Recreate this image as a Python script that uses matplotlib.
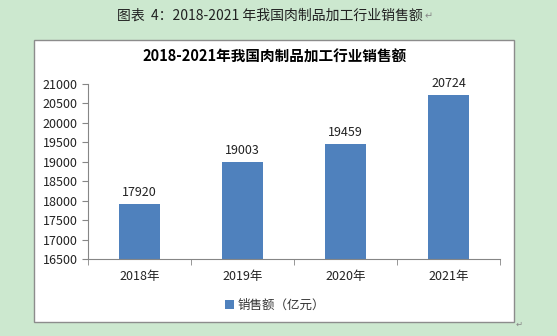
import matplotlib.pyplot as plt
from matplotlib.patches import Rectangle

plt.rcParams['font.family'] = ['Noto Sans CJK SC', 'DejaVu Sans']

# sales of meat processing industry, 100 million yuan
years = ['2018年', '2019年', '2020年', '2021年']
sales = [17920, 19003, 19459, 20724]
yticks = list(range(16500, 21001, 500))

bar_color = '#4f81bd'
axis_color = '#868686'

fig = plt.figure(figsize=(5.57, 3.36), dpi=100)
fig.patch.set_facecolor('#cce8cf')

# white chart frame, kept behind the axes
frame = Rectangle((34 / 557, 1 - 322 / 336), 480 / 557, 282 / 336,
                  transform=fig.transFigure, facecolor='white',
                  edgecolor='#8c8c8c', linewidth=1.0, zorder=-10)
fig.patches.append(frame)

caption = fig.text(0.485, 1 - 16 / 336, '图表  4：2018-2021 年我国肉制品加工行业销售额',
                   ha='center', va='center', fontsize=10, color='#222222')
fig.text(516 / 557, 1 - 324 / 336, '↵', ha='left', va='center', fontsize=6,
         color='#888888', family=['DejaVu Sans'])

fig.text(275 / 557, 1 - 57 / 336, '2018-2021年我国肉制品加工行业销售额',
         ha='center', va='center', fontsize=10.5, fontweight='bold', color='black')

ax = fig.add_axes([88 / 557, 1 - 259 / 336, 412 / 557, 175 / 336])
ax.set_facecolor('none')
x = range(len(years))
bars = ax.bar(x, sales, width=0.39, color=bar_color, zorder=2)
for xi, v in zip(x, sales):
    ax.text(xi, v + 120, str(v), ha='center', va='bottom', fontsize=9, color='#222222')

# paragraph mark right after the caption
ax.annotate('↵', xy=(1, 0.5), xycoords=caption, xytext=(1, 0), textcoords='offset points',
            ha='left', va='center', fontsize=7, color='#888888',
            family=['DejaVu Sans'], annotation_clip=False)

ax.set_xlim(-0.5, len(years) - 0.5)
ax.set_ylim(yticks[0], yticks[-1])
ax.set_yticks(yticks)
ax.set_xticks(list(x))
ax.set_xticklabels(years)
ax.set_xticks([i - 0.5 for i in range(len(years) + 1)], minor=True)
ax.tick_params(axis='x', which='major', length=0, labelsize=9, pad=8, colors='#222222')
ax.tick_params(axis='x', which='minor', length=4, color=axis_color, direction='out')
ax.tick_params(axis='y', length=4, color=axis_color, labelsize=9, labelcolor='#222222')
for s in ['top', 'right']:
    ax.spines[s].set_visible(False)
for s in ['left', 'bottom']:
    ax.spines[s].set_color(axis_color)

leg = fig.legend([bars], ['销售额（亿元）'], loc='center', bbox_to_anchor=(275 / 557, 1 - 305 / 336),
                 frameon=False, fontsize=9, handlelength=0.7, handleheight=0.7,
                 handletextpad=0.3)
for t in leg.get_texts():
    t.set_color('#333333')

fig.savefig('out.png', dpi=100, facecolor=fig.get_facecolor())
